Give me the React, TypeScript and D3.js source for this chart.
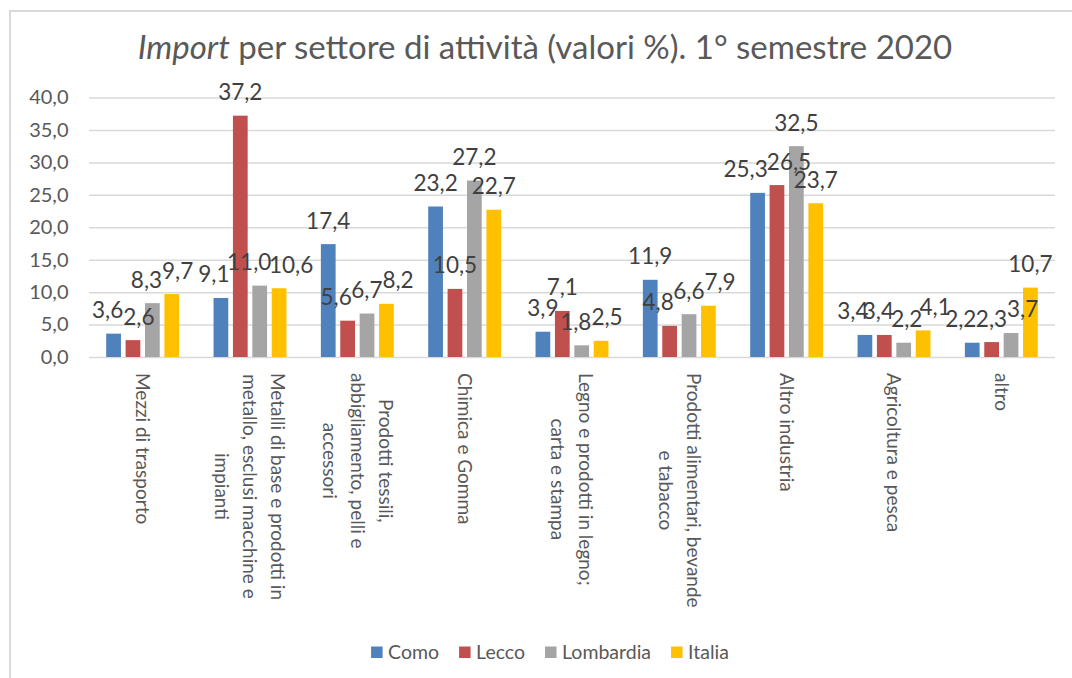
import { useEffect, useRef } from "react";
import * as d3 from "d3";

// categorie (a capo come nel grafico originale)
const categories = [
  "Mezzi di trasporto",
  "Metalli di base e prodotti in\nmetallo, esclusi macchine e\nimpianti",
  "Prodotti tessili,\nabbigliamento, pelli e\naccessori",
  "Chimica e Gomma",
  "Legno e prodotti in legno;\ncarta e stampa",
  "Prodotti alimentari, bevande\ne tabacco",
  "Altro industria",
  "Agricoltura e pesca",
  "altro",
];
const seriesNames = ["Como", "Lecco", "Lombardia", "Italia"];
const como = [3.6, 9.1, 17.4, 23.2, 3.9, 11.9, 25.3, 3.4, 2.2];
const lecco = [2.6, 37.2, 5.6, 10.5, 7.1, 4.8, 26.5, 3.4, 2.3];
const lombardia = [8.3, 11.0, 6.7, 27.2, 1.8, 6.6, 32.5, 2.2, 3.7];
const italia = [9.7, 10.6, 8.2, 22.7, 2.5, 7.9, 23.7, 4.1, 10.7];
const yTicks = [0, 5, 10, 15, 20, 25, 30, 35, 40];

const colors = ["#4F81BD", "#C0504D", "#A5A5A5", "#FFC000"];
const FONT = "Lato, 'Open Sans', sans-serif";

const itLocale = d3.formatLocale({ decimal: ",", thousands: ".", grouping: [3], currency: ["", " €"] });
const fmt = itLocale.format(".1f");

export default function App() {
  const svgRef = useRef<SVGSVGElement>(null);
  const width = 1072,
    height = 678,
    plot = { left: 89, right: 1055, top: 97.5, bottom: 357 };

  useEffect(() => {
    const svg = d3.select(svgRef.current);
    svg.selectAll("*").remove();
    const allSeries = [como, lecco, lombardia, italia];

    // cornice
    svg.append("rect")
      .attr("x", 10).attr("y", 11)
      .attr("width", 1100).attr("height", 720)
      .attr("fill", "white")
      .attr("stroke", "#d9d9d9")
      .attr("stroke-width", 2);

    // titolo
    const title = svg.append("text")
      .attr("x", 545).attr("y", 59)
      .attr("text-anchor", "middle")
      .attr("font-family", FONT)
      .attr("font-size", 33)
      .attr("fill", "#595959");
    title.append("tspan").attr("font-style", "italic").text("Import");
    title.append("tspan").text(" per settore di attività (valori %). 1° semestre 2020");

    const x0 = d3.scaleBand().domain(categories).range([plot.left, plot.right]);
    const x1 = d3.scaleBand()
      .domain(seriesNames)
      .range([17.2, x0.bandwidth() - 17.2])
      .paddingInner(0.24);
    const y = d3.scaleLinear().domain([0, 40]).range([plot.bottom, plot.top]);

    // asse y e griglia
    const yAxis = d3.axisLeft(y)
      .tickValues(yTicks)
      .tickSize(-(plot.right - plot.left))
      .tickPadding(20.5)
      .tickFormat((d) => fmt(d as number));
    const gy = svg.append("g")
      .attr("transform", `translate(${plot.left},0)`)
      .call(yAxis);
    gy.select(".domain").remove();
    gy.selectAll(".tick line").attr("stroke", "#d9d9d9").attr("stroke-width", 1.5);
    gy.selectAll(".tick text")
      .attr("font-family", FONT)
      .attr("font-size", 20)
      .attr("fill", "#595959");

    // barre
    const groups = svg.append("g")
      .selectAll("g")
      .data(categories)
      .join("g")
      .attr("transform", (c) => `translate(${x0(c)},0)`);
    groups.selectAll("rect")
      .data((c, i) => seriesNames.map((s, k) => ({ s, k, v: allSeries[k][i] })))
      .join("rect")
      .attr("x", (d) => x1(d.s)!)
      .attr("y", (d) => y(d.v))
      .attr("width", x1.bandwidth())
      .attr("height", (d) => y(0) - y(d.v))
      .attr("fill", (d) => colors[d.k]);

    // etichette dati
    groups.each(function (c, i) {
      const labels = seriesNames.map((s, k) => {
        const v = allSeries[k][i];
        const t = d3.select(this).append("text")
          .attr("text-anchor", "middle")
          .attr("font-family", FONT)
          .attr("font-size", 22.5)
          .attr("fill", "#404040")
          .text(fmt(v));
        const w = (t.node() as SVGTextElement).getComputedTextLength();
        const cx = x1(s)! + x1.bandwidth() / 2;
        return { t, w, cx, x: cx, base: y(v) - 15.5 };
      });
      // allontana un po' le etichette che si sovrappongono (come fa Excel)
      for (let pass = 0; pass < 3; pass++) {
        for (let a = 0; a < labels.length; a++) {
          for (let b = a + 1; b < labels.length; b++) {
            const A = labels[a], B = labels[b];
            const ox = (A.w + B.w) / 2 - Math.abs(B.x - A.x);
            const oy = 16 - Math.abs(B.base - A.base);
            if (ox > 0 && oy > 0) {
              A.x -= ox / 2;
              B.x += ox / 2;
            }
          }
        }
        labels.forEach((l) => { l.x = Math.max(l.cx - 12, Math.min(l.cx + 12, l.x)); });
      }
      labels.forEach((l) => l.t.attr("x", l.x).attr("y", l.base));
    });

    // etichette categorie ruotate
    const lineGap = 28;
    categories.forEach((c) => {
      const lines = c.split("\n");
      const g = svg.append("g")
        .attr("transform", `translate(${x0(c)! + x0.bandwidth() / 2},373) rotate(90)`);
      const texts = lines.map((ln, i) =>
        g.append("text")
          .attr("y", (i - (lines.length - 1) / 2) * lineGap)
          .attr("dy", "0.35em")
          .attr("text-anchor", "middle")
          .attr("font-family", FONT)
          .attr("font-size", 19)
          .attr("fill", "#595959")
          .text(ln)
      );
      const maxLen = d3.max(texts, (t) => (t.node() as SVGTextElement).getComputedTextLength()) || 0;
      texts.forEach((t) => t.attr("x", maxLen / 2));
    });

    // legenda
    const legend = svg.append("g");
    let cursor = 0;
    seriesNames.forEach((s, k) => {
      legend.append("rect")
        .attr("x", cursor).attr("y", 646.5)
        .attr("width", 11.5).attr("height", 11.5)
        .attr("fill", colors[k]);
      const t = legend.append("text")
        .attr("x", cursor + 17).attr("y", 658.5)
        .attr("font-family", FONT)
        .attr("font-size", 19.5)
        .attr("fill", "#595959")
        .text(s);
      cursor += 17 + (t.node() as SVGTextElement).getComputedTextLength() + 20;
    });
    const legendWidth = cursor - 20;
    legend.attr("transform", `translate(${550 - legendWidth / 2},0)`);
  }, []);

  return (
    <svg
      ref={svgRef}
      width={width}
      height={height}
      viewBox={`0 0 ${width} ${height}`}
      style={{ position: "absolute", left: 0, top: 0, display: "block", background: "white" }}
    />
  );
}
